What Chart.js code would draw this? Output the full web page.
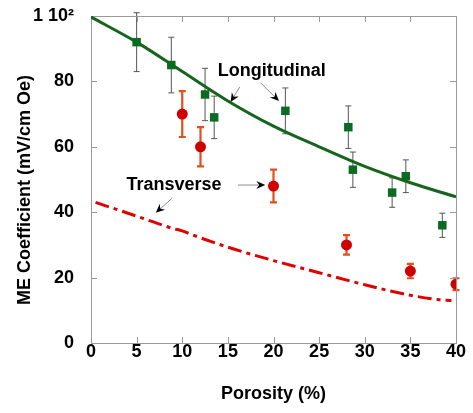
<!DOCTYPE html>
<html>
<head>
<meta charset="utf-8">
<script src="https://cdn.jsdelivr.net/npm/chart.js@4.4.0/dist/chart.umd.min.js"></script>
<style>
  html, body { margin: 0; padding: 0; background: #fff; }
  #wrap { width: 473px; height: 413px; }
</style>
</head>
<body>
<div id="wrap"><canvas id="meChart"></canvas></div>
<script>
// measured points: porosity (%) vs ME coefficient (mV/cm Oe)
const longPorosity = [5, 8.8, 12.5, 13.5, 21.3, 28.2, 28.7, 33, 34.5, 38.5]
const longValues = [92, 85, 76, 69, 71, 66, 53, 46, 51, 36]
const longErrors = [9, 8.5, 8, 6.5, 7, 6.5, 5.4, 4.5, 5, 3.7]

const transPorosity = [10, 12, 20, 28, 35, 40]
const transValues = [70, 60, 48, 30, 22, 18]
const transErrors = [7, 6, 5, 3, 2.2, 1.8]

// model curves
const longCurveX = [0, 5, 10, 15, 20, 25, 30, 35, 40]
const longCurveY = [99.7, 92, 83, 74, 66.3, 60, 54, 49, 44.7]
const transCurveX = [0.5, 5, 9, 10, 11, 15, 20, 25, 30, 35, 38, 39.5]
const transCurveY = [43, 38.8, 35, 34.3, 33.2, 29.3, 25.2, 21.5, 17.8, 14.6, 13.3, 13]

const xTicks = [0, 5, 10, 15, 20, 25, 30, 35, 40]
const yTicks = [0, 20, 40, 60, 80, 100]

const xTitle = "Porosity (%)"
const yTitle = "ME Coefficient (mV/cm Oe)"

// annotation labels, in data coordinates
const noteText = ["Longitudinal", "Transverse"]
const noteX = [19.8, 9.1]
const noteY = [83.2, 48.3]
// arrows: [fromX, fromY, toX, toY]
const noteArrows = [
    [16.3, 78.3, 15.3, 73.7],
    [18.6, 79.5, 20.6, 74.0],
    [16.1, 48.3, 19.1, 48.3],
    [8.9, 44.3, 7.1, 39.8]
]

const font = "'Liberation Sans', Arial, Helvetica, sans-serif"

function toPoints(xs, ys) {
    return xs.map((x, i) => ({ x: x, y: ys[i] }))
}

function drawArrow(ctx, x1, y1, x2, y2) {
    const ang = Math.atan2(y2 - y1, x2 - x1)
    const len = 9
    ctx.save()
    ctx.strokeStyle = "#8a8a8a"
    ctx.lineWidth = 1
    ctx.beginPath()
    ctx.moveTo(x1, y1)
    ctx.lineTo(x2 - Math.cos(ang) * 4, y2 - Math.sin(ang) * 4)
    ctx.stroke()
    ctx.translate(x2, y2)
    ctx.rotate(ang)
    ctx.fillStyle = "#000"
    ctx.beginPath()
    ctx.moveTo(0, 0)
    ctx.lineTo(-len, -4)
    ctx.lineTo(-len + 3, 0)
    ctx.lineTo(-len, 4)
    ctx.closePath()
    ctx.fill()
    ctx.restore()
}

const errorBars = {
    id: "errorBars",
    beforeDatasetsDraw(chart) {
        const ctx = chart.ctx
        const xs = chart.scales.x, ys = chart.scales.y
        const sets = [
            { px: longPorosity, v: longValues, e: longErrors, color: "#555", w: 1, cap: 3 },
            { px: transPorosity, v: transValues, e: transErrors, color: "#e4501c", w: 2.2, cap: 3.5 }
        ]
        ctx.save()
        sets.forEach(s => {
            ctx.strokeStyle = s.color
            ctx.lineWidth = s.w
            s.px.forEach((p, i) => {
                const x = xs.getPixelForValue(p)
                const top = ys.getPixelForValue(s.v[i] + s.e[i])
                const bot = ys.getPixelForValue(s.v[i] - s.e[i])
                ctx.beginPath()
                ctx.moveTo(x, top); ctx.lineTo(x, bot)
                ctx.moveTo(x - s.cap, top); ctx.lineTo(x + s.cap, top)
                ctx.moveTo(x - s.cap, bot); ctx.lineTo(x + s.cap, bot)
                ctx.stroke()
            })
        })
        ctx.restore()
    }
}

const frameAndNotes = {
    id: "frameAndNotes",
    beforeDatasetsDraw(chart) {
        const ctx = chart.ctx
        const a = chart.chartArea
        const xs = chart.scales.x, ys = chart.scales.y
        ctx.save()
        ctx.strokeStyle = "#9a9a9a"
        ctx.lineWidth = 1
        ctx.strokeRect(a.left + 0.5, a.top + 0.5, a.right - a.left, a.bottom - a.top)
        ctx.beginPath()
        xTicks.forEach(t => {
            const x = Math.round(xs.getPixelForValue(t)) + 0.5
            ctx.moveTo(x, a.bottom); ctx.lineTo(x, a.bottom - 6)
            ctx.moveTo(x, a.top); ctx.lineTo(x, a.top + 6)
        })
        yTicks.forEach(t => {
            const y = Math.round(ys.getPixelForValue(t)) + 0.5
            ctx.moveTo(a.left, y); ctx.lineTo(a.left + 6, y)
            ctx.moveTo(a.right, y); ctx.lineTo(a.right - 6, y)
        })
        ctx.stroke()
        ctx.restore()
    },
    afterDraw(chart) {
        const ctx = chart.ctx
        const a = chart.chartArea
        const xs = chart.scales.x, ys = chart.scales.y
        ctx.save()
        ctx.fillStyle = "#000"
        ctx.font = "bold 18px " + font
        ctx.textAlign = "center"
        ctx.textBaseline = "middle"
        noteText.forEach((t, i) => {
            ctx.fillText(t, xs.getPixelForValue(noteX[i]), ys.getPixelForValue(noteY[i]))
        })
        noteArrows.forEach(n => {
            drawArrow(ctx, xs.getPixelForValue(n[0]), ys.getPixelForValue(n[1]),
                xs.getPixelForValue(n[2]), ys.getPixelForValue(n[3]))
        })
        // axis titles
        ctx.fillText(xTitle, (a.left + a.right) / 2, 394)
        ctx.translate(25, 190)
        ctx.rotate(-Math.PI / 2)
        ctx.fillText(yTitle, 0, 0)
        ctx.restore()
    }
}

new Chart("meChart", {
    type: "scatter",
    data: {
        datasets: [
            {
                label: "Longitudinal",
                data: toPoints(longPorosity, longValues),
                pointStyle: "rect",
                pointRadius: 6,
                backgroundColor: "#0b6b22",
                borderColor: "#0b6b22",
                borderWidth: 0
            },
            {
                label: "Transverse",
                data: toPoints(transPorosity, transValues),
                pointStyle: "circle",
                pointRadius: 5.5,
                backgroundColor: "#d00000",
                borderColor: "#d00000",
                borderWidth: 0
            },
            {
                label: "Longitudinal model",
                type: "line",
                data: toPoints(longCurveX, longCurveY),
                borderColor: "#16651c",
                borderWidth: 3,
                pointRadius: 0,
                cubicInterpolationMode: "monotone",
                fill: false
            },
            {
                label: "Transverse model",
                type: "line",
                data: toPoints(transCurveX, transCurveY),
                borderColor: "#e00000",
                borderWidth: 3,
                borderDash: [14, 5, 4, 5],
                pointRadius: 0,
                cubicInterpolationMode: "monotone",
                fill: false
            }
        ]
    },
    options: {
        responsive: true,
        maintainAspectRatio: false,
        animation: false,
        layout: { padding: { top: 16, right: 17, left: 0, bottom: 0 } },
        plugins: {
            legend: { display: false },
            tooltip: { enabled: false }
        },
        scales: {
            x: {
                type: "linear",
                min: 0,
                max: 40,
                afterBuildTicks: (scale) => { scale.ticks = xTicks.map(v => ({ value: v })) },
                afterFit: (scale) => {
                    scale.height = 70
                    scale.paddingLeft = 0
                    scale.paddingRight = 0
                },
                grid: { display: false },
                border: { display: false },
                ticks: { color: "#000", font: { family: font, size: 18, weight: "bold" }, padding: -10, maxRotation: 0 }
            },
            y: {
                min: 0,
                max: 100,
                afterBuildTicks: (scale) => { scale.ticks = yTicks.map(v => ({ value: v })) },
                afterFit: (scale) => {
                    scale.width = 91
                    scale.paddingTop = 0
                    scale.paddingBottom = 0
                },
                grid: { display: false },
                border: { display: false },
                ticks: {
                    color: "#000",
                    font: { family: font, size: 18, weight: "bold" },
                    padding: 9,
                    callback: (v) => v === 100 ? "1 10\u00b2" : v
                }
            }
        }
    },
    plugins: [errorBars, frameAndNotes]
})
</script>
</body>
</html>
